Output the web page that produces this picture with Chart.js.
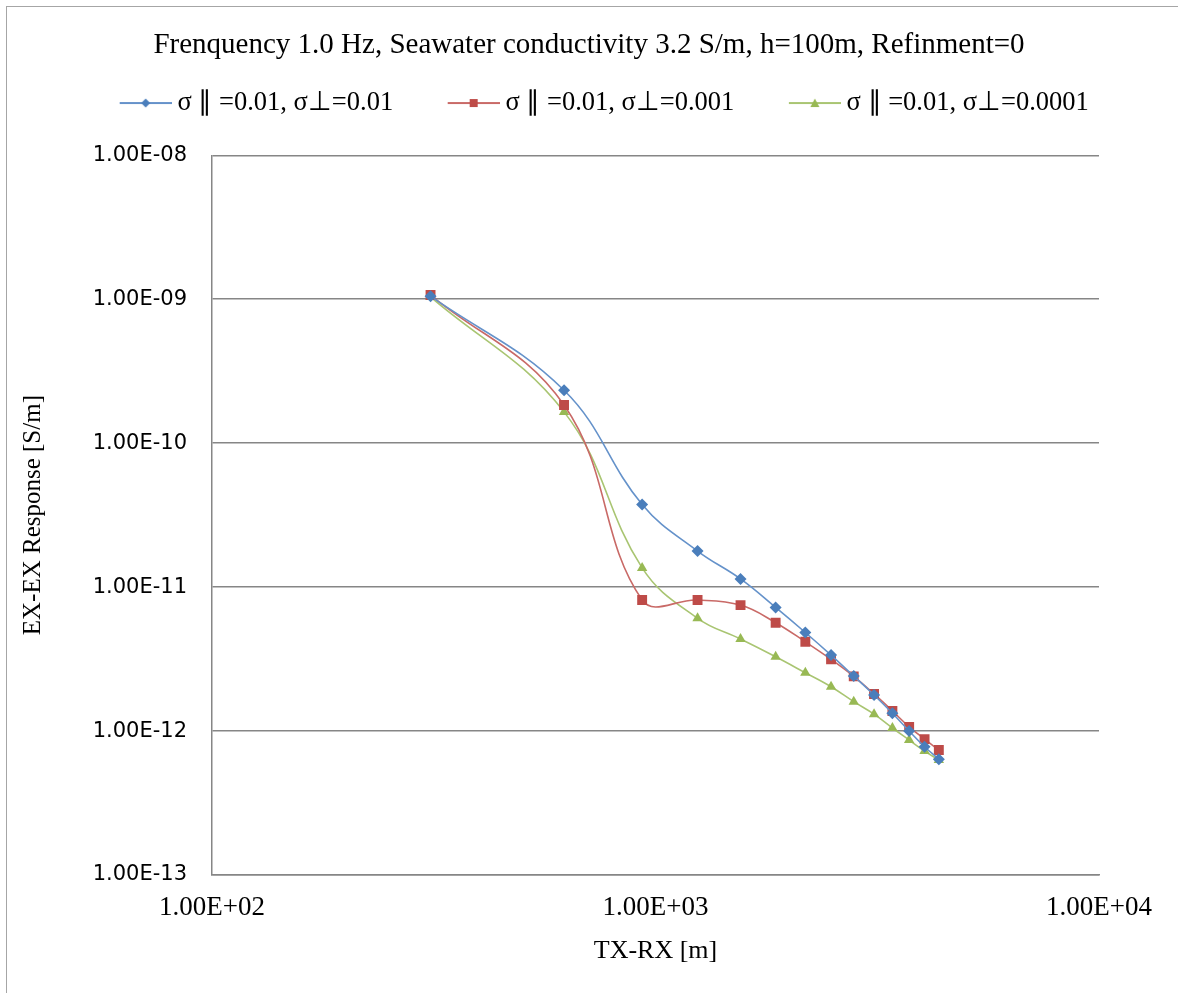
<!DOCTYPE html>
<html>
<head>
<meta charset="utf-8">
<script src="https://cdn.jsdelivr.net/npm/chart.js@4/dist/chart.umd.min.js"></script>
<style>
  html, body { margin: 0; padding: 0; background: #fff; }
  #wrap { position: relative; width: 1178px; height: 993px; overflow: hidden; }
  #frame { position: absolute; left: 6px; top: 6px; width: 1200px; height: 1000px; border: 1px solid #a6a6a6; }
  canvas { position: absolute; left: 0; top: 0; }
</style>
</head>
<body>
<div id="wrap">
  <div id="frame"></div>
  <canvas id="responseChart" width="1178" height="993"></canvas>
</div>
<script>
// Data
const distances = [311, 622, 933, 1244, 1555, 1866, 2177, 2488, 2799, 3110, 3421, 3732, 4043, 4354];
const iso001 = [1.05e-9, 2.33e-10, 3.75e-11, 1.78e-11, 1.14e-11, 7.23e-12, 4.84e-12, 3.37e-12, 2.41e-12, 1.78e-12, 1.33e-12, 1.0e-12, 7.78e-13, 6.37e-13];
const aniso0001 = [1.07e-9, 1.84e-10, 8.13e-12, 8.13e-12, 7.5e-12, 5.66e-12, 4.17e-12, 3.15e-12, 2.4e-12, 1.81e-12, 1.38e-12, 1.07e-12, 8.79e-13, 7.38e-13];
const aniso00001 = [1.04e-9, 1.65e-10, 1.36e-11, 6.07e-12, 4.36e-12, 3.28e-12, 2.54e-12, 2.03e-12, 1.6e-12, 1.31e-12, 1.05e-12, 8.66e-13, 7.26e-13, 6.3e-13];
const seriesNames = ['σ ∥ =0.01, σ⊥=0.01', 'σ ∥ =0.01, σ⊥=0.001', 'σ ∥ =0.01, σ⊥=0.0001'];

const xTicks = [1e2, 1e3, 1e4];
const xTickLabels = ['1.00E+02', '1.00E+03', '1.00E+04'];
const yTicks = [1e-13, 1e-12, 1e-11, 1e-10, 1e-9, 1e-8];
const yTickLabels = ['1.00E-13', '1.00E-12', '1.00E-11', '1.00E-10', '1.00E-09', '1.00E-08'];

const colors = ['#4a7ebb', '#be4b48', '#98b954'];
const lineColors = ['#6592ca', '#c96a67', '#a9c572'];
const shapes = ['rectRot', 'rect', 'triangle'];
const radii = [6, 7, 6];

const serif = '"Liberation Serif", "Times New Roman", serif';

// legend icon: line with a marker, drawn in the right part of a wider canvas
// so the gap to the text stays small, like Excel's
function legendIcon(i) {
  const c = document.createElement('canvas');
  c.width = 90; c.height = 14;
  const g = c.getContext('2d');
  const x0 = 38;
  g.strokeStyle = lineColors[i];
  g.lineWidth = 2;
  g.beginPath(); g.moveTo(x0, 7); g.lineTo(x0 + 52, 7); g.stroke();
  g.fillStyle = colors[i];
  g.beginPath();
  const cx = x0 + 26;
  if (shapes[i] === 'rectRot') {
    g.moveTo(cx, 2.5); g.lineTo(cx + 4.5, 7); g.lineTo(cx, 11.5); g.lineTo(cx - 4.5, 7);
  } else if (shapes[i] === 'rect') {
    g.rect(cx - 4, 3, 8, 8);
  } else {
    g.moveTo(cx, 2.5); g.lineTo(cx + 4.5, 11); g.lineTo(cx - 4.5, 11);
  }
  g.closePath(); g.fill();
  return c;
}

function makeSet(i, values) {
  return {
    label: seriesNames[i],
    data: distances.map((d, k) => ({ x: d, y: values[k] })),
    borderColor: lineColors[i],
    backgroundColor: colors[i],
    borderWidth: 1.6,
    pointStyle: shapes[i],
    pointRadius: radii[i],
    pointBorderWidth: 0,
    pointBackgroundColor: colors[i],
    tension: 0.4
  };
}

// empty spacer axes so the plot box sits where the reference has it
const spacer = (size) => ({
  type: 'linear',
  display: true,
  ticks: { display: false },
  grid: { display: false, drawTicks: false },
  border: { display: false },
  afterFit: (s) => { if (s.isHorizontal()) s.height = size; else s.width = size; }
});

const ctx = document.getElementById('responseChart').getContext('2d');
const chart = new Chart(ctx, {
  type: 'line',
  data: {
    datasets: [makeSet(0, iso001), makeSet(1, aniso0001), makeSet(2, aniso00001)]
  },
  options: {
    responsive: false,
    animation: false,
    layout: { padding: 0 },
    plugins: {
      title: {
        display: true,
        text: 'Frenquency 1.0 Hz, Seawater conductivity 3.2 S/m, h=100m, Refinment=0',
        color: '#000',
        font: { family: serif, size: 29, weight: 'normal' },
        padding: { top: 28, bottom: 3 }
      },
      legend: {
        position: 'top',
        labels: {
          color: '#000',
          font: { family: serif, size: 26.5 },
          usePointStyle: true,
          pointStyleWidth: 75,
          boxHeight: 14,
          padding: 24,
          generateLabels: (ch) => {
            const items = Chart.defaults.plugins.legend.labels.generateLabels(ch);
            items.forEach((it, i) => { it.pointStyle = legendIcon(i); });
            return items;
          }
        }
      },
      tooltip: { enabled: false }
    },
    scales: {
      x: {
        type: 'logarithmic',
        min: 1e2,
        max: 1e4,
        afterBuildTicks: (s) => { s.ticks = xTicks.map(v => ({ value: v })); },
        afterFit: (s) => { s.height = 118; },
        ticks: {
          color: '#000',
          font: { family: serif, size: 27 },
          padding: 17,
          autoSkip: false,
          maxRotation: 0,
          callback: (v) => xTickLabels[xTicks.indexOf(v)]
        },
        grid: { display: false, drawTicks: false },
        border: { display: true, color: '#868686', width: 1.5 },
        title: {
          display: true,
          text: 'TX-RX [m]',
          color: '#000',
          font: { family: serif, size: 26 },
          padding: { top: 0, bottom: 26 }
        }
      },
      xTopSpace: { ...spacer(29), position: 'top' },
      y: {
        type: 'logarithmic',
        min: 1e-13,
        max: 1e-8,
        afterBuildTicks: (s) => { s.ticks = yTicks.map(v => ({ value: v })); },
        afterFit: (s) => { s.width = 212; },
        ticks: {
          color: '#000',
          font: { family: '"DejaVu Sans", Verdana, sans-serif', size: 21 },
          padding: 25,
          autoSkip: false,
          callback: (v) => yTickLabels[yTicks.indexOf(v)]
        },
        grid: { color: '#868686', lineWidth: 1.5, drawTicks: false },
        border: { display: true, color: '#868686', width: 1.5 },
        title: {
          display: true,
          text: 'EX-EX Response [S/m]',
          color: '#000',
          font: { family: serif, size: 25 },
          padding: { top: 18, bottom: 0 }
        }
      },
      yRightSpace: { ...spacer(79), position: 'right' }
    }
  }
});
</script>
</body>
</html>
